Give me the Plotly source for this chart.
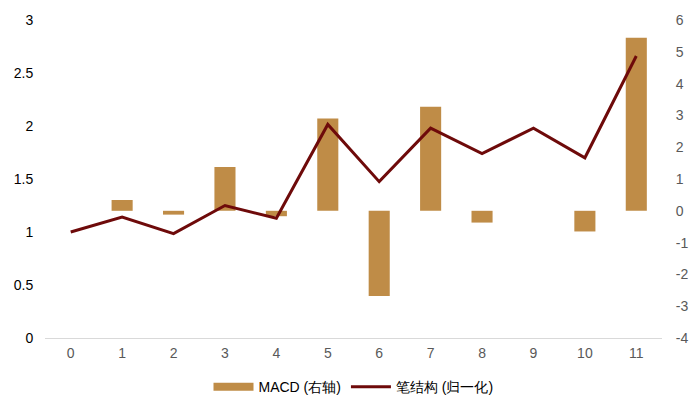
import plotly.graph_objects as go

categories = [str(i) for i in range(12)]
macd = [0, 0.34, -0.12, 1.38, -0.17, 2.9, -2.68, 3.27, -0.37, 0, -0.65, 5.44]
bi_struct = [1.0, 1.14, 0.985, 1.25, 1.13, 2.015, 1.475, 1.98, 1.74, 1.98, 1.70, 2.66]
left_ticks = [0, 0.5, 1, 1.5, 2, 2.5, 3]
left_labels = ["0", "0.5", "1", "1.5", "2", "2.5", "3"]
right_ticks = [-4, -3, -2, -1, 0, 1, 2, 3, 4, 5, 6]
right_labels = ["-4", "-3", "-2", "-1", "0", "1", "2", "3", "4", "5", "6"]

bar_color = "#BF8C47"
line_color = "#6E0A0A"

fig = go.Figure()
# bars on primary axis (shown on right side) so the line draws above them
fig.add_trace(go.Bar(
    x=categories, y=macd, name="MACD (右轴)", yaxis="y",
    marker=dict(color=bar_color, line=dict(width=0)),
    width=0.41, showlegend=False,
))
fig.add_trace(go.Scatter(
    x=categories, y=bi_struct, name="笔结构 (归一化)", mode="lines", yaxis="y2",
    line=dict(color=line_color, width=3), showlegend=False,
))
# legend-only entries
fig.add_trace(go.Scatter(
    x=[None], y=[None], name="MACD (右轴)", mode="lines",
    line=dict(color=bar_color, width=8), showlegend=True,
))
fig.add_trace(go.Scatter(
    x=[None], y=[None], name="笔结构 (归一化)", mode="lines",
    line=dict(color=line_color, width=3), showlegend=True,
))

font_family = "Liberation Sans, Arial, sans-serif"
# page body has an 8px default margin, so the figure is sized to fit the window
fig.update_layout(
    width=692, height=407,
    margin=dict(l=37, r=38, t=12, b=75),
    paper_bgcolor="white", plot_bgcolor="white",
    font=dict(family=font_family, size=14, color="#404040"),
    showlegend=True,
    legend=dict(orientation="h", x=0.5, xanchor="center", y=-0.104, yanchor="top",
                font=dict(size=14, color="#000000"), traceorder="normal",
                itemwidth=40),
    xaxis=dict(type="category", range=[-0.5, 11.5], showgrid=False,
               showline=True, linecolor="#D9D9D9", linewidth=1,
               ticks="outside", ticklen=2, tickcolor="rgba(0,0,0,0)",
               tickfont=dict(color="#595959", size=14), automargin=False),
    yaxis=dict(range=[-4, 6], tickvals=right_ticks, ticktext=right_labels,
               side="right", showgrid=False, zeroline=False, showline=False,
               ticks="outside", ticklen=10, tickcolor="rgba(0,0,0,0)",
               tickfont=dict(color="#595959", size=14), automargin=False),
    yaxis2=dict(range=[0, 3], tickvals=left_ticks, ticktext=left_labels,
                overlaying="y", side="left", showgrid=False, zeroline=False,
                showline=False, ticks="outside", ticklen=8,
                tickcolor="rgba(0,0,0,0)",
                tickfont=dict(color="#000000", size=14), automargin=False),
)

fig.write_html("out.html")
